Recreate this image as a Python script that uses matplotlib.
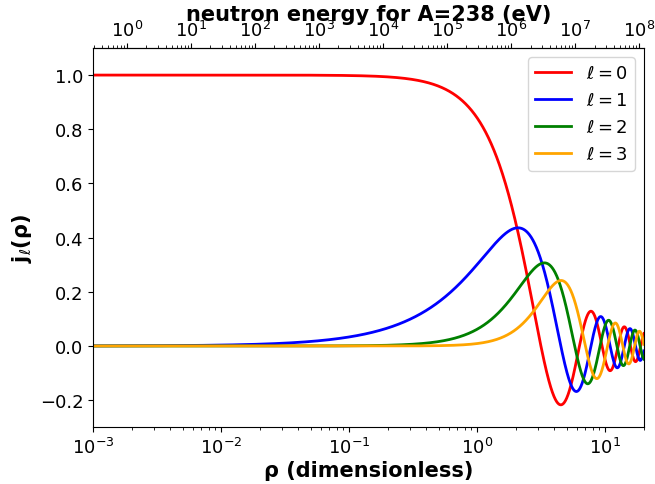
import numpy as np
import matplotlib.pyplot as plt
from math import factorial

# angular momenta and colours
ells = [0, 1, 2, 3]
colors = ["red", "blue", "green", "orange"]

# rho grid and axis limits
rho = np.logspace(-3, np.log10(20), 2000)
rho_min, rho_max = 1e-3, 20
y_min, y_max = -0.3, 1.1

# rho = c * sqrt(E[eV]) for A=238
A = 238
c = 2.19677e-4 * (A / (A + 1.0)) * (1.23 * A ** (1 / 3) + 0.8)


def dfact(n):
    r = 1
    while n > 1:
        r *= n
        n -= 2
    return r


def sph_jn(l, x):
    x = np.asarray(x, dtype=float)
    out = np.empty_like(x)
    small = x < 1.0
    xs = x[small]
    s = np.zeros_like(xs)
    for k in range(12):
        s += (-1) ** k * xs ** (2 * k) / (2 ** k * factorial(k) * dfact(2 * l + 2 * k + 1))
    out[small] = xs ** l * s
    xb = x[~small]
    sn, cs = np.sin(xb), np.cos(xb)
    if l == 0:
        v = sn / xb
    elif l == 1:
        v = sn / xb ** 2 - cs / xb
    elif l == 2:
        v = (3 / xb ** 2 - 1) * sn / xb - 3 * cs / xb ** 2
    else:
        v = (15 / xb ** 3 - 6 / xb) * sn / xb - (15 / xb ** 2 - 1) * cs / xb
    out[~small] = v
    return out


fig, ax = plt.subplots(figsize=(6.55, 4.85), dpi=100)
fig.subplots_adjust(left=0.142, right=0.983, bottom=0.117, top=0.899)

for l, col in zip(ells, colors):
    ax.plot(rho, sph_jn(l, rho), color=col, lw=2, label=r"$\ell = %d$" % l)

ax.set_xscale("log")
ax.set_xlim(rho_min, rho_max)
ax.set_ylim(y_min, y_max)
ax.tick_params(labelsize=13)
ax.set_xlabel("ρ (dimensionless)", fontsize=15, fontweight="bold", labelpad=2)
ax.set_ylabel(r"j$_\ell$(ρ)", fontsize=15, fontweight="bold")
ax.legend(loc="upper right", fontsize=13)

sec = ax.secondary_xaxis("top", functions=(lambda r: (r / c) ** 2, lambda e: c * np.sqrt(e)))
sec.set_xscale("log")
sec.tick_params(labelsize=13, pad=2)
sec.set_xlabel("neutron energy for A=238 (eV)", fontsize=15, fontweight="bold", labelpad=0)

plt.savefig("out.png", dpi=100)
